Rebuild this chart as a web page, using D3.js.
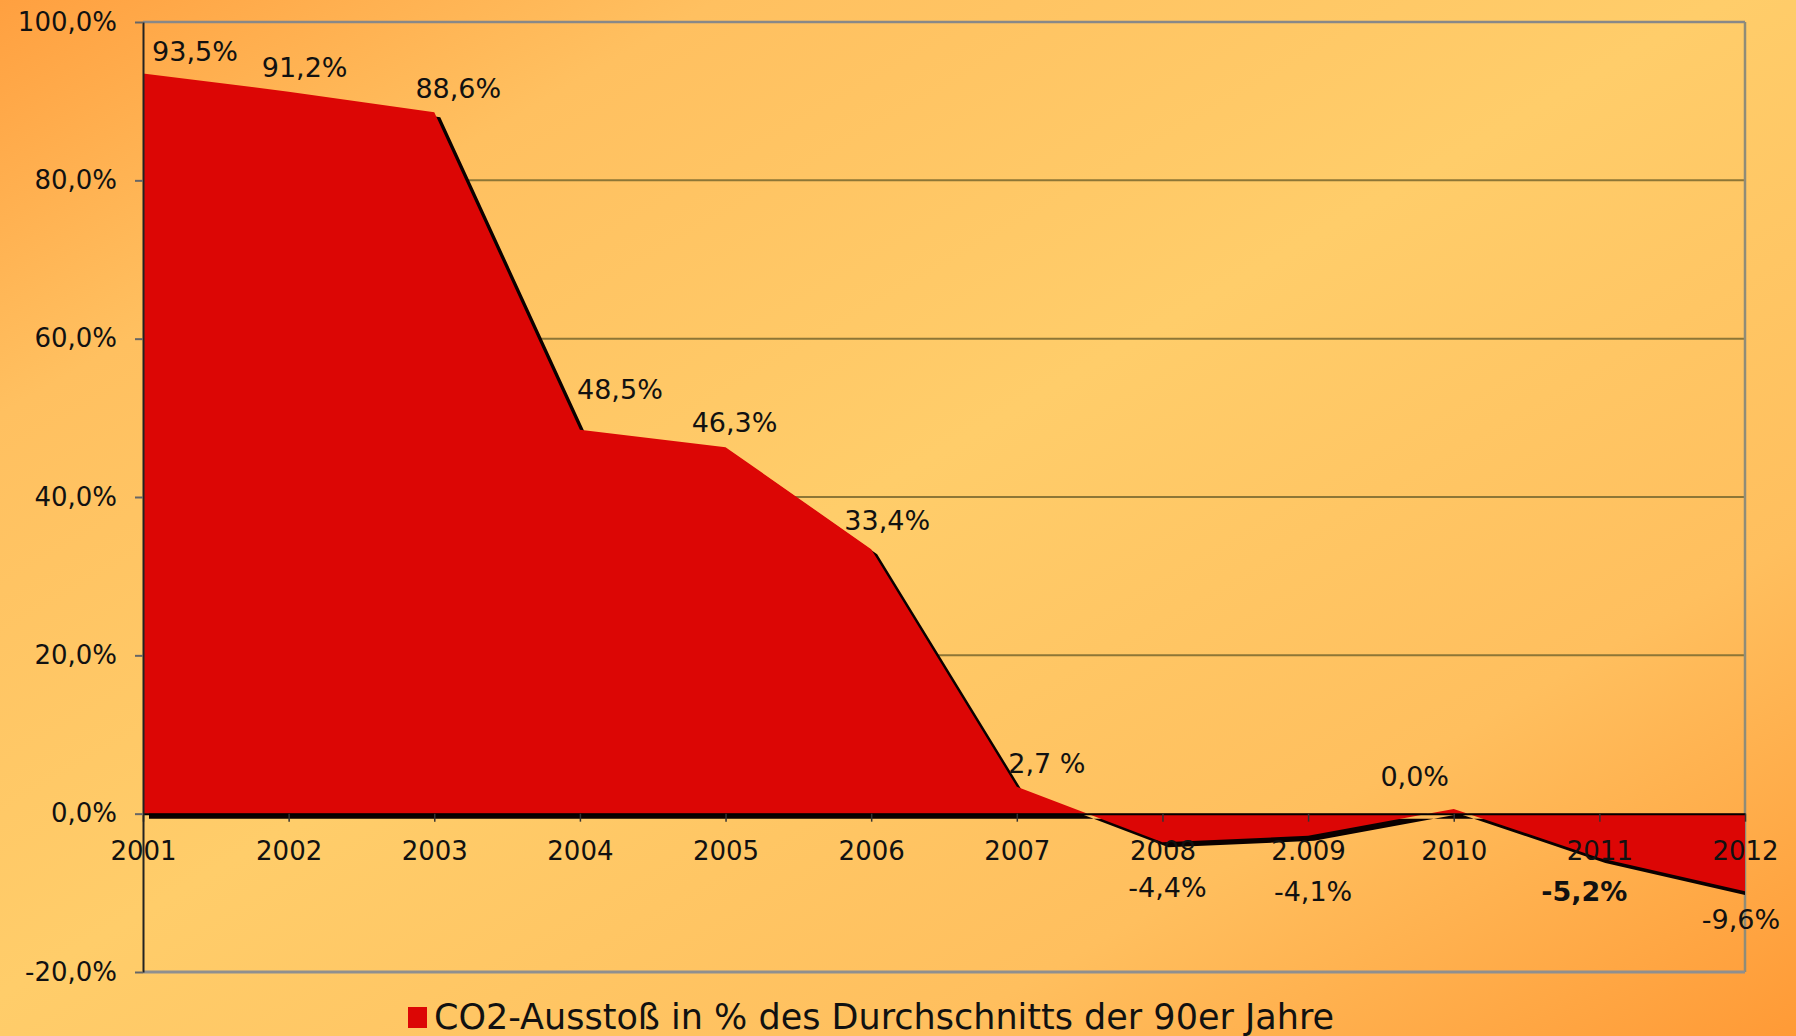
<!DOCTYPE html>
<html>
<head>
<meta charset="utf-8">
<script src="https://cdn.jsdelivr.net/npm/d3@7"></script>
<style>
  html, body { margin: 0; padding: 0; }
  body { width: 1796px; height: 1036px; overflow: hidden; }
  text { font-family: "DejaVu Sans", Verdana, sans-serif; fill: #111; }
</style>
</head>
<body>
<div id="chart"></div>
<script>
// Chart data
const years = ["2001", "2002", "2003", "2004", "2005", "2006", "2007", "2008", "2009", "2010", "2011", "2012"];
const yearLabels = ["2001", "2002", "2003", "2004", "2005", "2006", "2007", "2008", "2.009", "2010", "2011", "2012"];
// values as drawn in the picture
const co2Values = [93.5, 91.2, 88.6, 48.5, 46.3, 33.4, 3.4, -3.6, -2.8, 0.6, -5.6, -9.8];
// value labels as printed on the chart
const valueLabels = ["93,5%", "91,2%", "88,6%", "48,5%", "46,3%", "33,4%", "2,7 %", "-4,4%", "-4,1%", "0,0%", "-5,2%", "-9,6%"];
const yTicks = [-20, 0, 20, 40, 60, 80, 100];
const legendText = "CO2-Ausstoß in % des Durchschnitts der 90er Jahre";

// label nudges in px (layout only)
const labelShift = [[52, -22], [16, -24], [24, -24], [40, -40], [9, -25], [16, -29],
                    [30, -23], [5, 45], [5, 55], [-39, -33], [-15, 33], [-4, 28]];

const margin = {top: 22, right: 51, bottom: 64, left: 143};
const width = 1796 - margin.left - margin.right;
const height = 1036 - margin.top - margin.bottom;

const svg0 = d3.select("#chart")
    .append("svg")
    .attr("width", 1796)
    .attr("height", 1036);

// background
const defs = svg0.append("defs");
const grad = defs.append("linearGradient")
    .attr("id", "bg")
    .attr("x1", 0).attr("y1", 0).attr("x2", 1).attr("y2", 1);
grad.append("stop").attr("offset", "0%").attr("stop-color", "#ffa040");
grad.append("stop").attr("offset", "20%").attr("stop-color", "#ffc060");
grad.append("stop").attr("offset", "48%").attr("stop-color", "#ffcd6a");
grad.append("stop").attr("offset", "76%").attr("stop-color", "#ffbf5e");
grad.append("stop").attr("offset", "100%").attr("stop-color", "#ff9a36");

svg0.append("rect")
    .attr("width", 1796)
    .attr("height", 1036)
    .attr("fill", "url(#bg)");

defs.append("clipPath")
    .attr("id", "plotclip")
    .append("rect")
    .attr("x", 0).attr("y", -10)
    .attr("width", width).attr("height", height + 20);

const svg = svg0.append("g")
    .attr("transform", `translate(${margin.left}, ${margin.top})`);

const x = d3.scalePoint().domain(years).range([0, width]);
const y = d3.scaleLinear().domain([-20, 100]).range([height, 0]);

const data = years.map((yr, i) => ({year: yr, value: co2Values[i], label: valueLabels[i]}));

// gridlines
svg.append("g")
    .selectAll("line")
    .data(yTicks.filter(d => d > 0 && d < 100))
    .join("line")
    .attr("x1", 0).attr("x2", width)
    .attr("y1", d => y(d)).attr("y2", d => y(d))
    .attr("stroke", "#8d7636")
    .attr("stroke-width", 2);

// frame: top, right, bottom
svg.append("line")
    .attr("x1", 0).attr("x2", width)
    .attr("y1", y(100)).attr("y2", y(100))
    .attr("stroke", "#888").attr("stroke-width", 2.5);
svg.append("line")
    .attr("x1", width).attr("x2", width)
    .attr("y1", y(100)).attr("y2", y(-20))
    .attr("stroke", "#8f8c78").attr("stroke-width", 2.5);
svg.append("line")
    .attr("x1", 0).attr("x2", width)
    .attr("y1", y(-20)).attr("y2", y(-20))
    .attr("stroke", "#8f8f8f").attr("stroke-width", 3);

const area = d3.area()
    .x(d => x(d.year))
    .y0(y(0))
    .y1(d => y(d.value));

// shadow of the area
svg.append("g")
    .attr("clip-path", "url(#plotclip)")
    .append("path")
    .datum(data)
    .attr("transform", "translate(6, 5)")
    .attr("d", area)
    .attr("fill", "#0a0000");

svg.append("path")
    .datum(data)
    .attr("d", area)
    .attr("fill", "#dc0605");

// x axis on zero line
const xAxis = svg.append("g")
    .attr("transform", `translate(0, ${y(0)})`)
    .call(d3.axisBottom(x).tickSize(8).tickSizeOuter(0).tickPadding(20)
        .tickFormat((d, i) => yearLabels[i]));
xAxis.select(".domain").attr("stroke", "#000").attr("stroke-width", 2);
xAxis.selectAll(".tick line").attr("stroke", "#333").attr("stroke-width", 1.5);
xAxis.selectAll("text").style("font-size", "26px").attr("fill", "#111");

// y axis
const yAxis = svg.append("g")
    .call(d3.axisLeft(y).tickValues(yTicks).tickSize(8).tickSizeOuter(0).tickPadding(18)
        .tickFormat(d => d3.format(".1f")(d).replace("−", "-").replace(".", ",") + "%"));
yAxis.select(".domain").attr("stroke", "#222").attr("stroke-width", 2);
yAxis.selectAll(".tick line").attr("stroke", "#666").attr("stroke-width", 2);
yAxis.selectAll("text").style("font-size", "26px").attr("fill", "#111");

// value labels
svg.append("g")
    .selectAll("text")
    .data(data)
    .join("text")
    .attr("x", (d, i) => x(d.year) + labelShift[i][0])
    .attr("y", (d, i) => y(d.value) + labelShift[i][1])
    .attr("dy", "0.36em")
    .attr("text-anchor", "middle")
    .style("font-size", "27px")
    .style("font-weight", d => d.year === "2011" ? "bold" : "normal")
    .text(d => d.label);

// legend
const legend = svg0.append("g").attr("transform", "translate(408, 1007)");
legend.append("rect")
    .attr("width", 19)
    .attr("height", 21)
    .attr("fill", "#dc0605");
legend.append("text")
    .attr("x", 26)
    .attr("y", 22)
    .style("font-size", "35px")
    .text(legendText);
</script>
</body>
</html>
